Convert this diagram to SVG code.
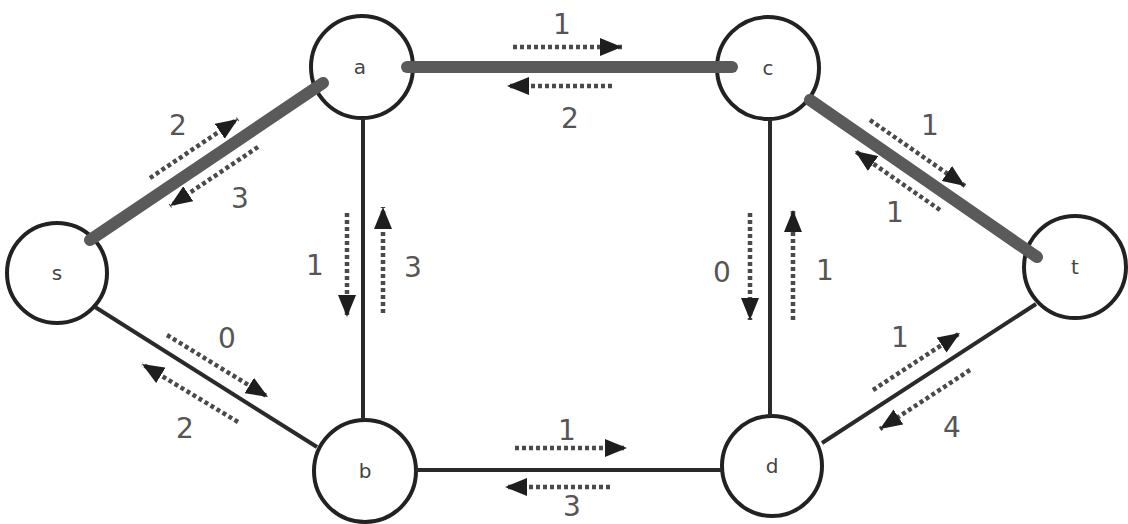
<svg xmlns="http://www.w3.org/2000/svg" width="1128" height="524" viewBox="0 0 1128 524">
<style>
.node circle{fill:#fff;stroke:#222;stroke-width:4}
.node text{font-family:"DejaVu Sans",sans-serif;font-size:20px;fill:#444;text-anchor:middle}
.thick{stroke:#5a5a5a;stroke-width:12;stroke-linecap:round}
.thin{stroke:#2a2a2a;stroke-width:4}
.flow{stroke:#4a4a4a;stroke-width:4.5;stroke-dasharray:4 3;fill:none;marker-end:url(#ah)}
.lbl{font-family:"DejaVu Sans",sans-serif;font-size:28px;fill:#555;text-anchor:middle}
</style>
<defs>
<marker id="ah" viewBox="0 0 22 18" refX="22" refY="9" markerWidth="22" markerHeight="18" markerUnits="userSpaceOnUse" orient="auto">
<path d="M0,0 L22,9 L0,18 z" fill="#1e1e1e"/>
</marker>
</defs>
<rect width="1128" height="524" fill="#fff"/>
<g id="node-s" class="node"><circle cx="57" cy="273" r="50"/><text x="57" y="280">s</text></g>
<g id="node-a" class="node"><circle cx="362" cy="67" r="51"/><text x="360" y="74">a</text></g>
<g id="node-c" class="node"><circle cx="768" cy="68" r="51"/><text x="768" y="75">c</text></g>
<g id="node-t" class="node"><circle cx="1075" cy="267" r="51"/><text x="1075" y="274">t</text></g>
<g id="node-b" class="node"><circle cx="365" cy="471" r="51"/><text x="365" y="478">b</text></g>
<g id="node-d" class="node"><circle cx="772" cy="466" r="50"/><text x="772" y="473">d</text></g>
<g id="connectors">
<line class="thick" x1="90" y1="240" x2="323" y2="83"/>
<line class="thick" x1="407" y1="67" x2="732" y2="67"/>
<line class="thick" x1="810" y1="100" x2="1037" y2="257"/>
<line class="thin" x1="363" y1="118" x2="363" y2="420"/>
<line class="thin" x1="770" y1="119" x2="770" y2="416"/>
<line class="thin" x1="95" y1="307" x2="317" y2="447"/>
<line class="thin" x1="416" y1="470" x2="722" y2="470"/>
<line class="thin" x1="822" y1="443" x2="1036" y2="304"/>
<line class="flow" x1="513" y1="47" x2="622" y2="47"/>
<line class="flow" x1="612" y1="86" x2="507" y2="86"/>
<line class="flow" x1="150" y1="178" x2="238" y2="119"/>
<line class="flow" x1="258" y1="147" x2="170" y2="206"/>
<line class="flow" x1="347" y1="213" x2="347" y2="317"/>
<line class="flow" x1="383" y1="313" x2="383" y2="207"/>
<line class="flow" x1="750" y1="213" x2="750" y2="320"/>
<line class="flow" x1="793" y1="320" x2="793" y2="210"/>
<line class="flow" x1="870" y1="120" x2="965" y2="186"/>
<line class="flow" x1="940" y1="210" x2="855" y2="151"/>
<line class="flow" x1="873" y1="390" x2="960" y2="333"/>
<line class="flow" x1="970" y1="370" x2="880" y2="429"/>
<line class="flow" x1="167" y1="335" x2="268" y2="397"/>
<line class="flow" x1="238" y1="422" x2="142" y2="364"/>
<line class="flow" x1="515" y1="448" x2="627" y2="448"/>
<line class="flow" x1="610" y1="487" x2="505" y2="487"/>
<text class="lbl" x="562" y="34">1</text>
<text class="lbl" x="570" y="128">2</text>
<text class="lbl" x="178" y="135">2</text>
<text class="lbl" x="240" y="208">3</text>
<text class="lbl" x="315" y="275">1</text>
<text class="lbl" x="413" y="277">3</text>
<text class="lbl" x="722" y="282">0</text>
<text class="lbl" x="825" y="280">1</text>
<text class="lbl" x="930" y="135">1</text>
<text class="lbl" x="895" y="222">1</text>
<text class="lbl" x="900" y="347">1</text>
<text class="lbl" x="952" y="437">4</text>
<text class="lbl" x="227" y="348">0</text>
<text class="lbl" x="185" y="438">2</text>
<text class="lbl" x="567" y="440">1</text>
<text class="lbl" x="572" y="516">3</text>
</g>
</svg>
